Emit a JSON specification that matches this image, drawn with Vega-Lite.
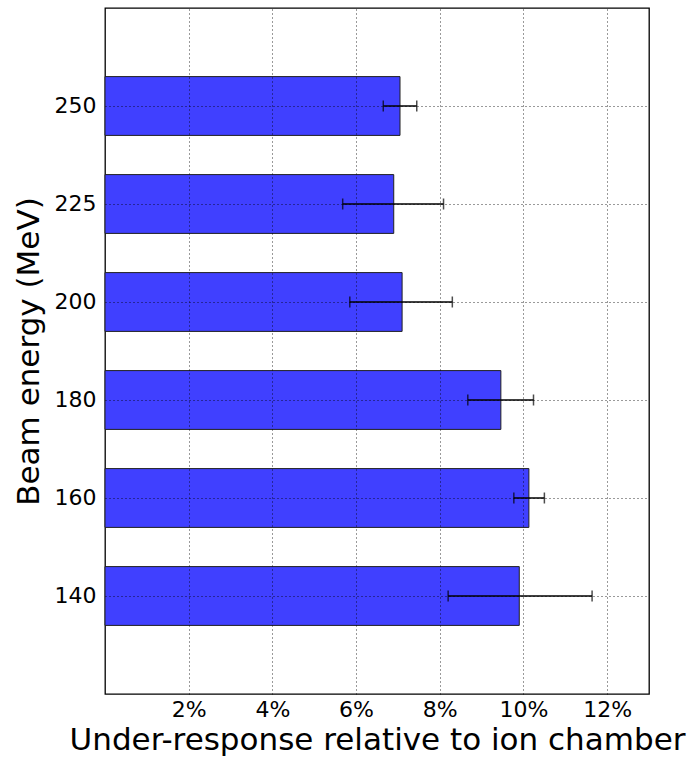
{
  "$schema": "https://vega.github.io/schema/vega-lite/v6.json",
  "autosize": "none",
  "padding": {"left": 105, "top": 8, "right": 43, "bottom": 65},
  "width": 544,
  "height": 686,
  "background": "white",
  "config": {
    "font": "DejaVu Sans",
    "view": {"stroke": "black", "strokeWidth": 1.3},
    "axis": {
      "domainColor": "black",
      "gridColor": "black",
      "gridDash": [1, 3],
      "gridWidth": 0.8,
      "gridOpacity": 1,
      "labelColor": "black",
      "titleColor": "black",
      "labelFont": "DejaVu Sans",
      "titleFont": "DejaVu Sans",
      "labelFontSize": 22,
      "titleFontSize": 31,
      "titleFontWeight": "normal"
    }
  },
  "data": {
    "values": [
      {"energy": "250", "value": 7.05, "lo": 6.65, "hi": 7.45},
      {"energy": "225", "value": 6.90, "lo": 5.68, "hi": 8.09},
      {"energy": "200", "value": 7.10, "lo": 5.85, "hi": 8.30},
      {"energy": "180", "value": 9.46, "lo": 8.67, "hi": 10.24},
      {"energy": "160", "value": 10.13, "lo": 9.77, "hi": 10.50},
      {"energy": "140", "value": 9.90, "lo": 8.20, "hi": 11.64}
    ]
  },
  "encoding": {
    "y": {
      "field": "energy",
      "type": "ordinal",
      "sort": ["250", "225", "200", "180", "160", "140"],
      "scale": {"paddingInner": 0.4, "paddingOuter": 0.7},
      "axis": {
        "title": "Beam energy (MeV)",
        "grid": true,
        "ticks": false,
        "domain": false,
        "labelPadding": 9,
        "titlePadding": 9,
        "zindex": 1
      }
    }
  },
  "layer": [
    {
      "mark": {"type": "bar", "color": "#4040ff", "stroke": "#202020", "strokeWidth": 1},
      "encoding": {
        "x": {
          "field": "value",
          "type": "quantitative",
          "scale": {"domain": [0, 13], "nice": false, "zero": true},
          "axis": {
            "title": "Under-response relative to ion chamber",
            "values": [2, 4, 6, 8, 10, 12],
            "labelExpr": "datum.value + '%'",
            "grid": true,
            "ticks": false,
            "domain": false,
            "labelPadding": 5,
            "titlePadding": 5,
            "zindex": 1
          }
        }
      }
    },
    {
      "mark": {"type": "rule", "color": "black", "strokeWidth": 1.5},
      "encoding": {
        "x": {"field": "lo", "type": "quantitative"},
        "x2": {"field": "hi"}
      }
    },
    {
      "mark": {"type": "tick", "color": "black", "thickness": 1.5, "size": 11},
      "encoding": {"x": {"field": "lo", "type": "quantitative"}}
    },
    {
      "mark": {"type": "tick", "color": "black", "thickness": 1.5, "size": 11},
      "encoding": {"x": {"field": "hi", "type": "quantitative"}}
    }
  ]
}
